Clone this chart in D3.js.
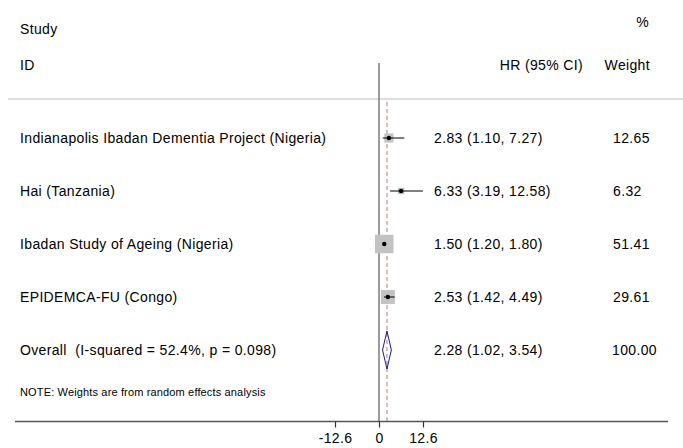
<!DOCTYPE html>
<html>
<head>
<meta charset="utf-8">
<script src="https://cdn.jsdelivr.net/npm/d3@7"></script>
<style>
  body { margin: 0; background: #fff; }
  text { font-family: "Liberation Sans", Arial, sans-serif; fill: #000; white-space: pre; letter-spacing: 0.35px; }
</style>
</head>
<body>
<svg id="chart" width="683" height="448"></svg>
<script>
// study rows
var studies = ['Indianapolis Ibadan Dementia Project (Nigeria)', 'Hai (Tanzania)',
        'Ibadan Study of Ageing (Nigeria)', 'EPIDEMCA-FU (Congo)'],
    hr = [2.83, 6.33, 1.50, 2.53],
    lower = [1.10, 3.19, 1.20, 1.42],
    upper = [7.27, 12.58, 1.80, 4.49],
    weights = ['12.65', '6.32', '51.41', '29.61'];

// pooled estimate
var overallLabel = 'Overall  (I-squared = 52.4%, p = 0.098)',
    overall = [2.28, 1.02, 3.54],
    overallWeight = '100.00';

var ticks = [-12.6, 0, 12.6],
    tickLabels = ['-12.6', '0', '12.6'],
    note = 'NOTE: Weights are from random effects analysis';

var svg = d3.select('#chart'),
    x = d3.scaleLinear().domain([-12.6, 12.6]).range([335, 423]),
    y = d3.scalePoint().domain(d3.range(5)).range([138, 350]),
    size = d3.scaleSqrt().domain([0, 51.41]).range([0, 18.5]),
    fmt = d3.format('.2f'),
    fs = 14;

function ci(i) {
    return fmt(hr[i]) + ' (' + fmt(lower[i]) + ', ' + fmt(upper[i]) + ')';
}

// headers
svg.append('text').attr('x', 20).attr('y', 34).attr('font-size', fs).text('Study');
svg.append('text').attr('x', 20).attr('y', 70).attr('font-size', fs).text('ID');
svg.append('text').attr('x', 583).attr('y', 70).attr('font-size', fs).attr('text-anchor', 'end').text('HR (95% CI)');
svg.append('text').attr('x', 649).attr('y', 27).attr('font-size', fs).attr('text-anchor', 'end').text('%');
svg.append('text').attr('x', 650).attr('y', 70).attr('font-size', fs).attr('text-anchor', 'end').text('Weight');

svg.append('line')
    .attr('x1', 8).attr('x2', 683).attr('y1', 99).attr('y2', 99)
    .attr('stroke', '#ddd').attr('stroke-width', 2);

// no-effect line
svg.append('line')
    .attr('x1', x(0)).attr('x2', x(0)).attr('y1', 63).attr('y2', 422)
    .attr('stroke', '#7a7a7a').attr('stroke-width', 1.5);

// overall effect line
svg.append('line')
    .attr('x1', x(overall[0])).attr('x2', x(overall[0])).attr('y1', 102).attr('y2', 421)
    .attr('stroke', '#d4a3a6').attr('stroke-width', 1.5).attr('stroke-dasharray', '4,3');

var rows = svg.selectAll('g.study')
    .data(studies)
    .enter().append('g').attr('class', 'study');

rows.append('rect')
    .attr('x', function (d, i) { return x(hr[i]) - size(+weights[i]) / 2; })
    .attr('y', function (d, i) { return y(i) - size(+weights[i]) / 2; })
    .attr('width', function (d, i) { return size(+weights[i]); })
    .attr('height', function (d, i) { return size(+weights[i]); })
    .attr('fill', '#c3c3c3');

rows.append('line')
    .attr('x1', function (d, i) { return x(lower[i]); })
    .attr('x2', function (d, i) { return x(upper[i]); })
    .attr('y1', function (d, i) { return y(i); })
    .attr('y2', function (d, i) { return y(i); })
    .attr('stroke', '#000').attr('stroke-width', 1);

rows.append('circle')
    .attr('cx', function (d, i) { return x(hr[i]); })
    .attr('cy', function (d, i) { return y(i); })
    .attr('r', 2.2).attr('fill', '#000');

rows.append('text').attr('x', 20).attr('y', function (d, i) { return y(i) + 5; })
    .attr('font-size', fs).text(function (d) { return d; });
rows.append('text').attr('x', 434).attr('y', function (d, i) { return y(i) + 5; })
    .attr('font-size', fs).text(function (d, i) { return ci(i); });
rows.append('text').attr('x', 613).attr('y', function (d, i) { return y(i) + 5; })
    .attr('font-size', fs).text(function (d, i) { return weights[i]; });

// pooled diamond
var oy = y(4);
svg.append('path')
    .attr('d', 'M' + x(overall[1]) + ',' + oy + 'L' + x(overall[0]) + ',' + (oy - 19) +
        'L' + x(overall[2]) + ',' + oy + 'L' + x(overall[0]) + ',' + (oy + 19) + 'Z')
    .attr('fill', 'none').attr('stroke', '#1a1a8c').attr('stroke-width', 1);
svg.append('text').attr('x', 20).attr('y', oy + 5).attr('font-size', fs).text(overallLabel);
svg.append('text').attr('x', 434).attr('y', oy + 5).attr('font-size', fs)
    .text(fmt(overall[0]) + ' (' + fmt(overall[1]) + ', ' + fmt(overall[2]) + ')');
svg.append('text').attr('x', 612).attr('y', oy + 5).attr('font-size', fs).text(overallWeight);

svg.append('text').attr('x', 20).attr('y', 396).attr('font-size', 11)
    .style('letter-spacing', '0.15px').text(note);

// axis
svg.append('line')
    .attr('x1', 15).attr('x2', 668).attr('y1', 421.5).attr('y2', 421.5)
    .attr('stroke', '#555').attr('stroke-width', 1.5);

var axis = svg.append('g').attr('transform', 'translate(0,421.5)')
    .call(d3.axisBottom(x).tickValues(ticks).tickSize(6)
        .tickFormat(function (d, i) { return tickLabels[i]; }));
axis.select('.domain').remove();
axis.selectAll('.tick line').attr('stroke', '#333').attr('stroke-width', 1.2);
axis.selectAll('.tick text').attr('font-size', fs).attr('dy', '0.9em')
    .style('font-family', '"Liberation Sans", Arial, sans-serif');
</script>
</body>
</html>
